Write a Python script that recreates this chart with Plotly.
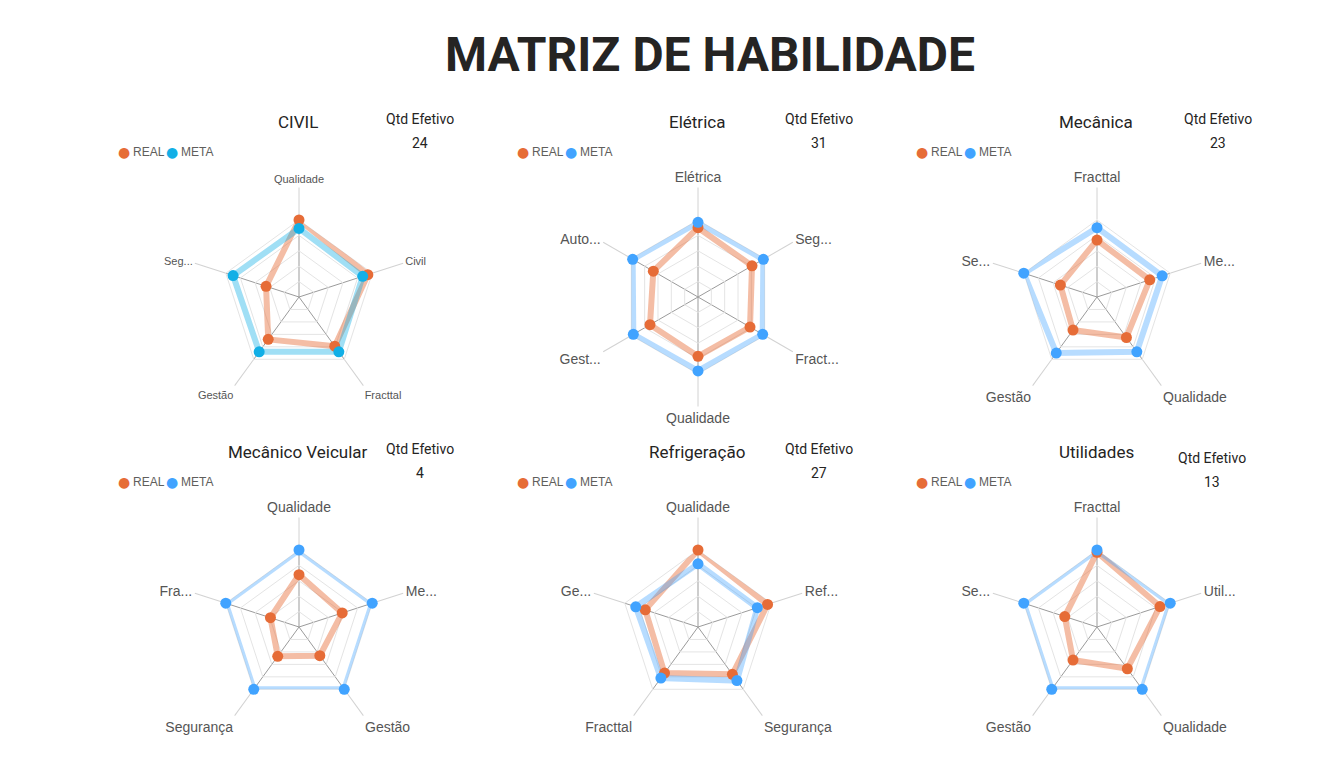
import plotly.graph_objects as go

# ---------------- data ----------------
page_title = "MATRIZ DE HABILIDADE"
series_names = ["REAL", "META"]

civil_axes = ["Qualidade", "Civil", "Fracttal", "Gestão", "Seg..."]
civil_real = [100, 94, 79, 68, 45]
civil_meta = [89, 87, 88, 88, 90]
civil_qtd = 24

eletrica_axes = ["Elétrica", "Seg...", "Fract...", "Qualidade", "Gest...", "Auto..."]
eletrica_real = [90, 81, 78, 77, 72, 67]
eletrica_meta = [97, 98, 97, 96, 97, 98]
eletrica_qtd = 31

mecanica_axes = ["Fracttal", "Me...", "Qualidade", "Gestão", "Se..."]
mecanica_real = [74, 72, 65, 53, 50]
mecanica_meta = [90, 89, 88, 90, 100]
mecanica_qtd = 23

veicular_axes = ["Qualidade", "Me...", "Gestão", "Segurança", "Fra..."]
veicular_real = [68, 59, 46, 47, 39]
veicular_meta = [100, 100, 100, 100, 100]
veicular_qtd = 4

refrig_axes = ["Qualidade", "Ref...", "Segurança", "Fracttal", "Ge..."]
refrig_real = [100, 95, 76, 74, 72]
refrig_meta = [82, 81, 86, 82, 85]
refrig_qtd = 27

util_axes = ["Fracttal", "Util...", "Qualidade", "Gestão", "Se..."]
util_real = [97, 86, 67, 53, 44]
util_meta = [100, 100, 100, 100, 100]
util_qtd = 13

panel_titles = ["CIVIL", "Elétrica", "Mecânica", "Mecânico Veicular", "Refrigeração", "Utilidades"]

# ---------------- layout constants ----------------
W, H = 1336, 778
R = 77  # px radius of the radar
centers = [(299, 297), (698, 297), (1097, 297), (299, 627), (698, 627), (1097, 627)]
REAL_C = "#E66C37"
REAL_LINE = "rgba(230,108,55,0.45)"
META_COLORS = ["#12AFE6", "#41A3FF", "#41A3FF", "#41A3FF", "#41A3FF", "#41A3FF"]
META_LINES = ["rgba(18,175,230,0.40)"] + ["rgba(65,163,255,0.38)"] * 5
label_sizes = [11, 14, 14, 14, 14, 14]

panels = [
    (civil_axes, civil_real, civil_meta, civil_qtd),
    (eletrica_axes, eletrica_real, eletrica_meta, eletrica_qtd),
    (mecanica_axes, mecanica_real, mecanica_meta, mecanica_qtd),
    (veicular_axes, veicular_real, veicular_meta, veicular_qtd),
    (refrig_axes, refrig_real, refrig_meta, refrig_qtd),
    (util_axes, util_real, util_meta, util_qtd),
]

fig = go.Figure()
annotations = []
layout_polars = {}


def closed(v):
    return list(v) + [v[0]]


def ann(text, x, y, size, color="#252423", family="Roboto", xanchor="center"):
    return dict(text=text, x=x / W, y=1 - y / H, xref="paper", yref="paper",
                xanchor=xanchor, yanchor="middle", showarrow=False,
                font=dict(family=family, size=size, color=color))


for i, (axes, real, meta, qtd) in enumerate(panels):
    pid = "polar" if i == 0 else f"polar{i + 1}"
    cx, cy = centers[i]
    # lines first
    fig.add_trace(go.Scatterpolar(r=closed(real), theta=closed(axes), mode="lines",
                                  line=dict(color=REAL_LINE, width=6), subplot=pid,
                                  showlegend=False, hoverinfo="skip", name="REAL"))
    fig.add_trace(go.Scatterpolar(r=closed(meta), theta=closed(axes), mode="lines",
                                  line=dict(color=META_LINES[i], width=6), subplot=pid,
                                  showlegend=False, hoverinfo="skip", name="META"))
    # markers
    fig.add_trace(go.Scatterpolar(r=real, theta=axes, mode="markers",
                                  marker=dict(color=REAL_C, size=11), subplot=pid,
                                  showlegend=False, name="REAL"))
    fig.add_trace(go.Scatterpolar(r=meta, theta=axes, mode="markers",
                                  marker=dict(color=META_COLORS[i], size=11), subplot=pid,
                                  showlegend=False, name="META"))

    layout_polars[pid] = dict(
        domain=dict(x=[(cx - R) / W, (cx + R) / W], y=[1 - (cy + R) / H, 1 - (cy - R) / H]),
        bgcolor="rgba(0,0,0,0)",
        gridshape="linear",
        radialaxis=dict(range=[0, 100], tick0=0, dtick=20, showticklabels=False, ticks="",
                        showline=False, gridcolor="#e4e4e4", gridwidth=1, layer="below traces"),
        angularaxis=dict(direction="clockwise", rotation=90, type="category",
                         categoryarray=axes,
                         showline=True, linecolor="#e4e4e4", linewidth=1,
                         showgrid=True, gridcolor="#9b9b9b", gridwidth=1,
                         ticks="outside", ticklen=32, tickcolor="#d2d2d2", tickwidth=1,
                         tickfont=dict(family="Liberation Sans, Arial", size=label_sizes[i], color="#555555"),
                         layer="below traces"),
    )

    # panel title
    annotations.append(ann(panel_titles[i], cx - 1, cy - 175, 17))
    # Qtd Efetivo card
    qx = cx + 121 if i != 5 else cx + 115
    qy = cy - 178 if i != 5 else cy - 169
    annotations.append(ann("Qtd Efetivo", qx, qy, 14))
    annotations.append(ann(str(qtd), qx, qy + 24, 14))
    # legend (dot + label per series)
    ly = cy - 145
    annotations.append(ann("●", cx - 175, ly, 14, color=REAL_C, family="DejaVu Sans"))
    annotations.append(ann(series_names[0], cx - 168, ly, 12, color="#605E5C",
                           family="Liberation Sans, Arial", xanchor="left"))
    annotations.append(ann("●", cx - 127, ly, 14, color=META_COLORS[i], family="DejaVu Sans"))
    annotations.append(ann(series_names[1], cx - 120, ly, 12, color="#605E5C",
                           family="Liberation Sans, Arial", xanchor="left"))

annotations.append(ann(f"<b>{page_title}</b>", 710, 55, 48))

fig.update_layout(
    width=W, height=H, autosize=False,
    margin=dict(l=0, r=0, t=0, b=0),
    paper_bgcolor="white", plot_bgcolor="white",
    showlegend=False,
    annotations=annotations,
    **layout_polars,
)

fig.write_html("out.html")
